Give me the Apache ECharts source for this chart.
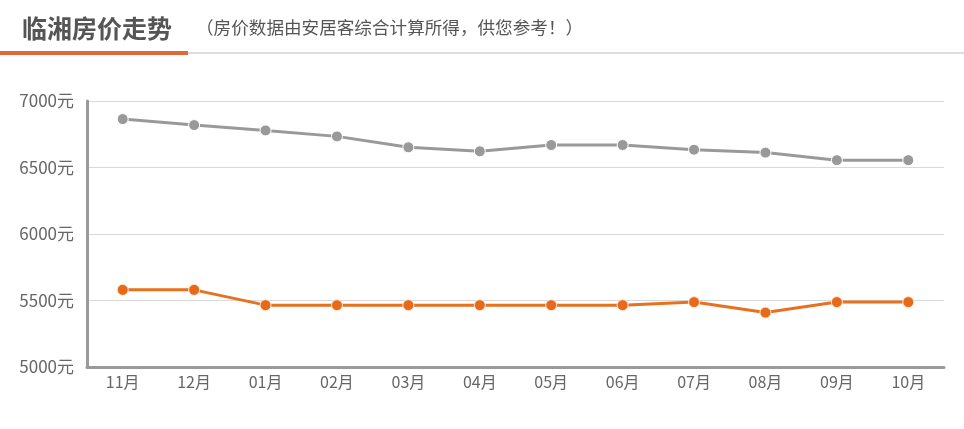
<!DOCTYPE html>
<html><head><meta charset="utf-8">
<script src="https://cdn.jsdelivr.net/npm/echarts@6/dist/echarts.min.js"></script>
<style>html,body{margin:0;padding:0;background:#fff}#c{width:964px;height:429px}</style>
</head><body><div id="c"></div>
<script>
const categories = ['11月','12月','01月','02月','03月','04月','05月','06月','07月','08月','09月','10月'];
const grayValues = [6864, 6819, 6779, 6734, 6652, 6622, 6669, 6669, 6634, 6612, 6555, 6555];
const orangeValues = [5580, 5580, 5465, 5465, 5465, 5465, 5465, 5465, 5488, 5409, 5488, 5488];
const yTicks = [5000, 5500, 6000, 6500, 7000];
const titleText = '临湘房价走势';
const subText = '（房价数据由安居客综合计算所得，供您参考！）';

const chart = echarts.init(document.getElementById('c'));
const font = '"Noto Sans CJK SC", "Noto Sans", sans-serif';
chart.setOption({
  animation: false,
  grid: {left: 87, right: 20, top: 101, bottom: 62},
  graphic: [
    {type: 'text', left: 22, top: 16, style: {text: titleText, font: 'bold 25px ' + font, fill: '#555'}},
    {type: 'text', left: 196, top: 19, style: {text: subText, font: '17.6px ' + font, fill: '#555'}},
    {type: 'rect', shape: {x: 188, y: 52, width: 776, height: 2}, style: {fill: '#dcdcdc'}},
    {type: 'rect', shape: {x: 0, y: 51, width: 188, height: 4}, style: {fill: '#e0693a'}}
  ],
  xAxis: {
    type: 'category', data: categories, boundaryGap: true,
    axisLine: {lineStyle: {color: '#9a9a9a', width: 3}},
    axisTick: {alignWithLabel: true, length: 5, lineStyle: {color: '#bbb'}},
    axisLabel: {color: '#666', fontSize: 16, fontFamily: font, margin: 7}
  },
  yAxis: {
    type: 'value', min: yTicks[0], max: yTicks[yTicks.length-1], interval: 500,
    axisLine: {show: true, lineStyle: {color: '#9a9a9a', width: 3}},
    axisTick: {show: false},
    axisLabel: {color: '#666', fontSize: 17, fontFamily: font, margin: 13, formatter: v => v + '元'},
    splitLine: {lineStyle: {color: '#d9d9d9', width: 1}}
  },
  series: [
    {type: 'line', data: grayValues, symbol: 'circle', symbolSize: 11,
     lineStyle: {color: '#999', width: 3}, itemStyle: {color: '#999', borderColor: '#fff', borderWidth: 1}},
    {type: 'line', data: orangeValues, symbol: 'circle', symbolSize: 11,
     lineStyle: {color: '#e8711e', width: 3}, itemStyle: {color: '#e8691a', borderColor: '#fde9d6', borderWidth: 1}}
  ]
});
</script></body></html>
